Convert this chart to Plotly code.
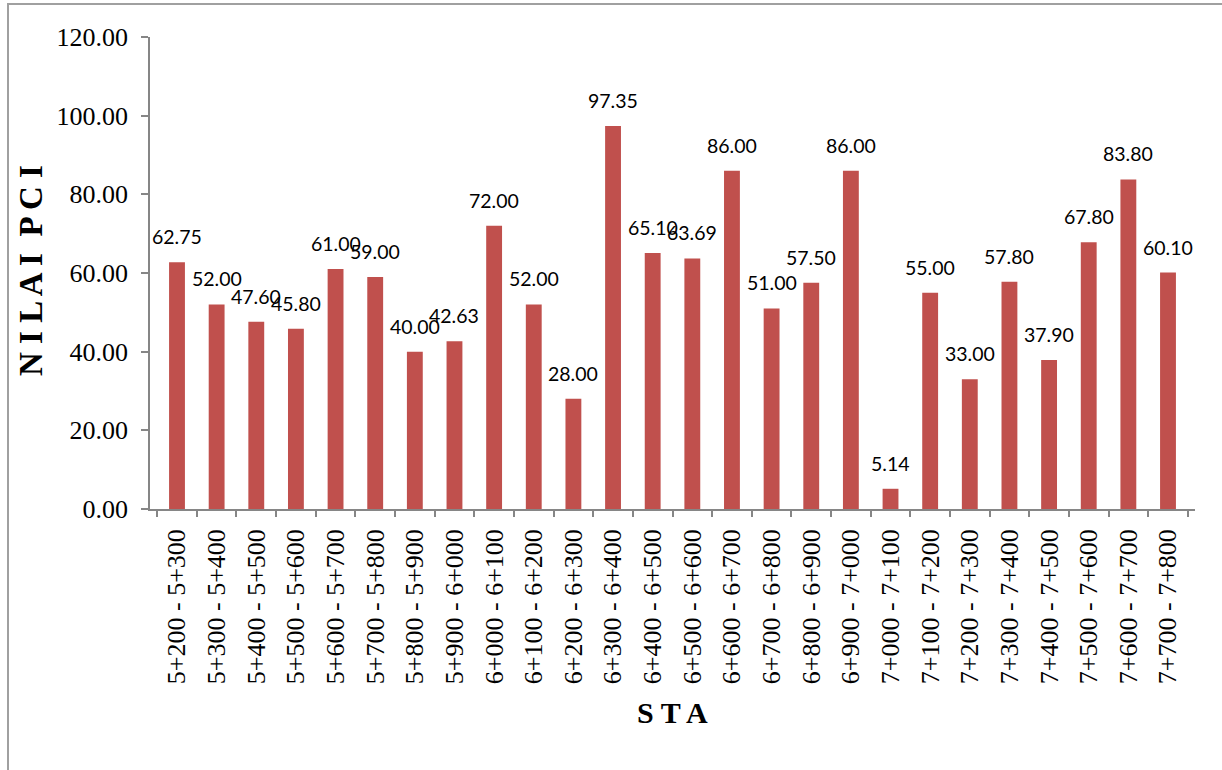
import plotly.graph_objects as go

categories = [
    "5+200 - 5+300", "5+300 - 5+400", "5+400 - 5+500", "5+500 - 5+600",
    "5+600 - 5+700", "5+700 - 5+800", "5+800 - 5+900", "5+900 - 6+000",
    "6+000 - 6+100", "6+100 - 6+200", "6+200 - 6+300", "6+300 - 6+400",
    "6+400 - 6+500", "6+500 - 6+600", "6+600 - 6+700", "6+700 - 6+800",
    "6+800 - 6+900", "6+900 - 7+000", "7+000 - 7+100", "7+100 - 7+200",
    "7+200 - 7+300", "7+300 - 7+400", "7+400 - 7+500", "7+500 - 7+600",
    "7+600 - 7+700", "7+700 - 7+800",
]
pci_values = [
    62.75, 52.00, 47.60, 45.80, 61.00, 59.00, 40.00, 42.63, 72.00, 52.00,
    28.00, 97.35, 65.10, 63.69, 86.00, 51.00, 57.50, 86.00, 5.14, 55.00,
    33.00, 57.80, 37.90, 67.80, 83.80, 60.10,
]
y_ticks = [0, 20, 40, 60, 80, 100, 120]

W, H = 1222, 770
L, R, T, B = 150, 27, 37, 261
pw, ph = W - L - R, H - T - B

def px_x(x):
    return (x - L) / pw

def px_y(y):
    return (H - B - y) / ph

fig = go.Figure()
fig.add_trace(go.Bar(
    x=categories, y=pci_values,
    marker=dict(color="#C0504D", line=dict(width=0)),
    hoverinfo="x+y",
))

annotations = []
for c, v in zip(categories, pci_values):
    annotations.append(dict(
        x=c, y=v, xref="x", yref="y", text=f"{v:.2f}", showarrow=False,
        yanchor="bottom", xanchor="center", yshift=12,
        font=dict(family="Lato, Open Sans, sans-serif", size=19.5, color="#000000"),
    ))

annotations.append(dict(
    x=px_x(31), y=px_y(271), xref="paper", yref="paper",
    text="<b>N I L A I&nbsp; P C I</b>", textangle=-90, showarrow=False,
    xanchor="center", yanchor="middle",
    font=dict(family="Liberation Serif, Times New Roman, serif", size=33, color="#000000"),
))
annotations.append(dict(
    x=0.5, y=px_y(712), xref="paper", yref="paper",
    text="<b>S T A</b>", showarrow=False,
    xanchor="center", yanchor="middle",
    font=dict(family="Liberation Serif, Times New Roman, serif", size=30, color="#000000"),
))

fig.update_layout(
    width=W, height=H,
    margin=dict(l=L, r=R, t=T, b=B, autoexpand=False),
    paper_bgcolor="white", plot_bgcolor="white",
    bargap=0.6,
    showlegend=False,
    annotations=annotations,
    shapes=[dict(
        type="rect", xref="paper", yref="paper",
        x0=px_x(8), x1=px_x(1240), y0=px_y(790), y1=px_y(4),
        line=dict(color="#A0A0A0", width=2), fillcolor="rgba(0,0,0,0)", layer="below",
    )],
)

fig.update_xaxes(
    type="category",
    tickangle=-90,
    tickson="boundaries",
    ticks="outside", ticklen=6, tickcolor="#868686", tickwidth=1.5,
    showline=True, linecolor="#868686", linewidth=1.5,
    showgrid=False,
    ticklabelstandoff=8,
    tickfont=dict(family="Liberation Serif, Times New Roman, serif", size=26, color="#000000"),
)
fig.update_yaxes(
    range=[0, 120],
    tickvals=y_ticks,
    tickformat=".2f",
    ticks="outside", ticklen=7, tickcolor="#868686", tickwidth=1.5,
    showline=True, linecolor="#868686", linewidth=1.5,
    showgrid=False, zeroline=False,
    ticklabelstandoff=8,
    tickfont=dict(family="Liberation Serif, Times New Roman, serif", size=26, color="#000000"),
)

fig.write_html(
    "out.html",
    config={"displayModeBar": False},
    post_script="document.body.style.margin='0px'; document.body.style.overflow='hidden';",
)
